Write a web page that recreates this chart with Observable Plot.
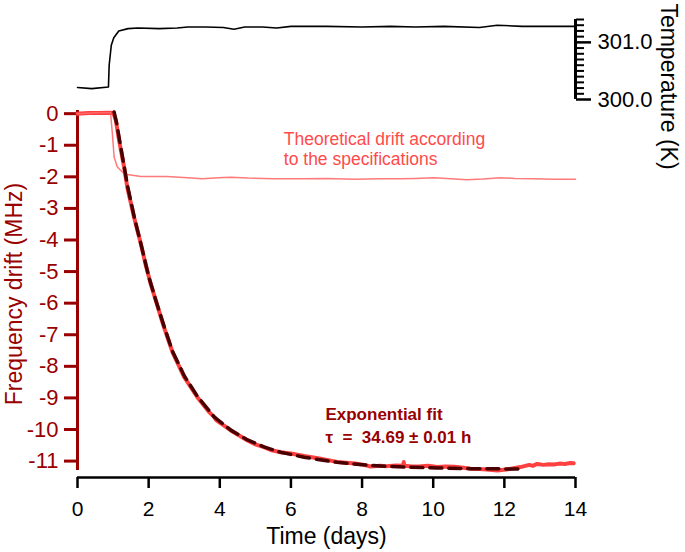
<!DOCTYPE html>
<html><head><meta charset="utf-8">
<script src="https://cdn.jsdelivr.net/npm/d3@7"></script>
<script src="https://cdn.jsdelivr.net/npm/@observablehq/plot@0.6"></script>
<style>
body{margin:0;background:#fff}
#chart{position:relative;width:685px;height:552px}
#chart svg{position:absolute;left:0;top:0}
</style>
</head><body><div id="chart"></div>
<script>
// ---- data ----
const driftDays = [0,0.3,0.6,0.9,1.0,1.03,1.08,1.17,1.31,1.40,1.59,1.78,1.92,2.06,2.20,2.43,2.67,3.00,3.37,3.70,3.84,3.90,4.05,4.31,4.78,5.00,5.24,5.43,5.71,6.00,6.37,6.80,7.05,7.30,7.55,7.80,8.05,8.24,8.50,8.70,8.95,9.15,9.17,9.19,9.40,9.60,9.85,10.11,10.35,10.60,10.85,11.05,11.30,11.50,11.80,12.10,12.30,12.45,12.70,12.80,12.92,13.10,13.25,13.39,13.55,13.70,13.85,13.95];
const driftMHz  = [0.00,0.02,0.02,0.03,0.02,-0.05,-0.22,-0.85,-1.69,-2.33,-3.28,-4.12,-4.80,-5.40,-5.91,-6.76,-7.55,-8.34,-8.98,-9.45,-9.60,-9.70,-9.82,-10.03,-10.35,-10.47,-10.56,-10.65,-10.72,-10.76,-10.84,-10.92,-10.97,-11.03,-11.05,-11.08,-11.12,-11.17,-11.15,-11.16,-11.14,-11.15,-11.03,-11.15,-11.17,-11.17,-11.15,-11.19,-11.17,-11.18,-11.21,-11.24,-11.25,-11.27,-11.30,-11.26,-11.22,-11.19,-11.12,-11.15,-11.09,-11.12,-11.10,-11.11,-11.08,-11.09,-11.06,-11.07];

const fitDays = [1.03,1.10,1.20,1.30,1.40,1.60,1.80,2.00,2.20,2.43,2.67,3.00,3.37,3.84,4.31,4.78,5.24,5.71,6.37,7.30,8.24,9.17,10.11,11.05,12.45];
const fitMHz  = [0.05,-0.30,-0.95,-1.60,-2.25,-3.30,-4.20,-5.15,-5.90,-6.72,-7.52,-8.30,-8.95,-9.60,-10.02,-10.33,-10.55,-10.72,-10.88,-11.04,-11.14,-11.19,-11.22,-11.24,-11.25];

const theoryDays = [0,0.5,0.93,0.98,1.03,1.12,1.26,1.40,1.78,2.50,3.10,3.50,4.10,4.30,4.80,5.50,6.30,7.00,7.80,8.50,9.08,9.50,10.02,10.50,10.95,11.40,11.89,12.30,12.80,13.40,14.00];
const theoryMHz  = [0.00,0.03,0.03,-0.63,-1.38,-1.69,-1.85,-1.93,-1.99,-1.99,-2.03,-2.06,-2.02,-2.01,-2.04,-2.06,-2.06,-2.05,-2.08,-2.06,-2.06,-2.05,-2.03,-2.06,-2.09,-2.07,-2.03,-2.05,-2.06,-2.08,-2.08];

const tempDays = [0,0.4,0.87,0.89,0.95,1.02,1.16,1.42,1.70,2.30,2.80,3.10,3.60,4.10,4.40,4.70,5.20,5.60,6.00,7.00,8.00,8.80,9.50,10.30,11.30,11.80,12.50,13.20,14.00];
const tempK    = [300.21,300.19,300.22,300.60,300.95,301.08,301.20,301.24,301.25,301.24,301.25,301.27,301.27,301.26,301.23,301.27,301.27,301.25,301.28,301.28,301.27,301.28,301.27,301.28,301.26,301.30,301.28,301.28,301.28];

const xTicks = [0,2,4,6,8,10,12,14];
const yTicks = [0,-1,-2,-3,-4,-5,-6,-7,-8,-9,-10,-11];
const tempMajor = [300,301];
const tempMinor = [300.1,300.2,300.3,300.4,300.5,300.6,300.7,300.8,300.9,301.1,301.2,301.3,301.4];

const theoryLabel = "Theoretical drift according\nto the specifications";
const theoryLabelPos = {x: 5.8, y: -1.1};
const fitLabel = "Exponential fit\nτ  =  34.69 ± 0.01 h";
const fitLabelPos = {x: 6.97, y: -9.84};

// ---- build tables ----
const drift = driftDays.map((d,i)=>({t:d, v:driftMHz[i]}));
const fit = fitDays.map((d,i)=>({t:d, v:fitMHz[i]}));
const theory = theoryDays.map((d,i)=>({t:d, v:theoryMHz[i]}));
const temp = tempDays.map((d,i)=>({t:d, v:tempK[i]}));

const DARK = "#990000";
const FONT = "'Liberation Sans', Arial, Helvetica, sans-serif";
const yDomain = [-11.52, 0.1];
const yAxisExtent = [-11.3, 0.1];
const tDomain = [300, 301.4];

const mainPlot = Plot.plot({
  width: 685, height: 552,
  marginLeft: 77, marginRight: 110, marginTop: 110, marginBottom: 75,
  x: {domain: [0, 14]},
  y: {domain: yDomain},
  style: {fontFamily: FONT, background: "transparent", overflow: "visible"},
  marks: [
    Plot.ruleY([yDomain[0]], {stroke: "black", strokeWidth: 2.5}),
    Plot.axisX({ticks: xTicks, tickSize: 11, tickPadding: 13, fontSize: 21, strokeWidth: 2.5, color: "black", label: null, tickFormat: d => String(d)}),
    Plot.ruleX([0], {y1: yAxisExtent[0], y2: yAxisExtent[1], stroke: DARK, strokeWidth: 3}),
    Plot.axisY({ticks: yTicks, tickSize: 13, tickPadding: 6, fontSize: 22, strokeWidth: 3, color: DARK, label: null, tickFormat: d => String(d)}),
    Plot.line(drift, {x: "t", y: "v", stroke: "#ff4040", strokeWidth: 4}),
    Plot.line(theory, {x: "t", y: "v", stroke: "#ff6b6b", strokeWidth: 1.5, strokeOpacity: 0.9}),
    Plot.line(fit, {x: "t", y: "v", stroke: "#4a0000", strokeWidth: 3.5, strokeDasharray: "12,7"}),
    Plot.text([theoryLabel], {x: theoryLabelPos.x, y: theoryLabelPos.y, textAnchor: "start", lineAnchor: "middle", lineHeight: 1.15, fontSize: 17.5, fill: "#ff4a4a"}),
    Plot.text([fitLabel], {x: fitLabelPos.x, y: fitLabelPos.y, textAnchor: "start", lineAnchor: "middle", lineHeight: 1.3, fontSize: 17, fontWeight: "bold", fill: DARK}),
    Plot.text(["Time (days)"], {frameAnchor: "bottom", dy: 59, textAnchor: "middle", lineAnchor: "middle", fontSize: 23, fill: "black"}),
    Plot.text(["Frequency drift (MHz)"], {frameAnchor: "left", dx: -63, rotate: -90, textAnchor: "middle", lineAnchor: "middle", fontSize: 23, fill: DARK})
  ]
});

const tempPlot = Plot.plot({
  width: 685, height: 552,
  marginLeft: 77, marginRight: 110, marginTop: 19, marginBottom: 453,
  x: {domain: [0, 14], axis: null},
  y: {domain: tDomain},
  style: {fontFamily: FONT, background: "transparent", overflow: "visible", pointerEvents: "none"},
  marks: [
    Plot.axisY({anchor: "right", ticks: tempMinor, tickSize: 8, strokeWidth: 2, tickFormat: () => "", label: null}),
    Plot.axisY({anchor: "right", ticks: tempMajor, tickSize: 15, tickPadding: 7, strokeWidth: 2.5, fontSize: 22, tickFormat: d3.format(".1f"), label: null}),
    Plot.ruleX([14], {y1: tDomain[0], y2: tDomain[1], stroke: "black", strokeWidth: 3}),
    Plot.line(temp, {x: "t", y: "v", stroke: "black", strokeWidth: 1.6}),
    Plot.text(["Temperature (K)"], {frameAnchor: "right", dx: 93, dy: 27, rotate: 90, textAnchor: "middle", lineAnchor: "middle", fontSize: 23, fill: "black"})
  ]
});

const el = document.getElementById("chart");
el.appendChild(mainPlot);
el.appendChild(tempPlot);
</script>
</body></html>
